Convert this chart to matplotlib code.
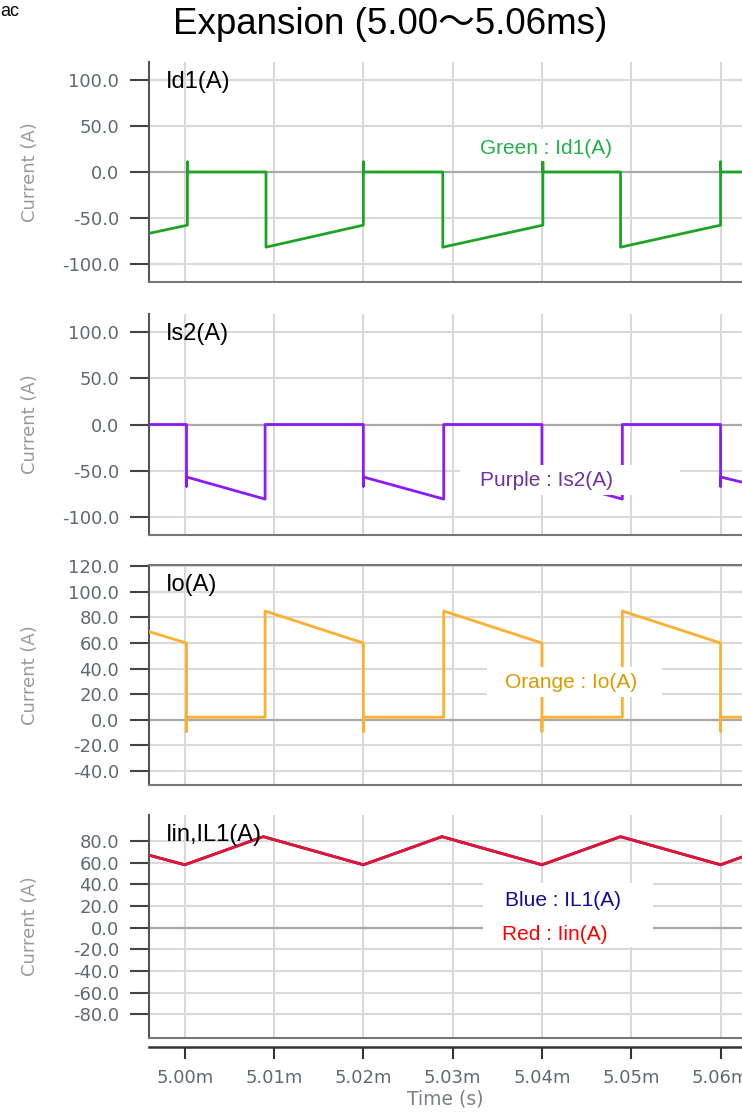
import numpy as np
import matplotlib.pyplot as plt
from matplotlib.ticker import FuncFormatter

# waveform breakpoints, time in ms
t_id1 = [4.9955, 5.0003, 5.0003, 5.0003, 5.0091, 5.0091, 5.0200, 5.0200, 5.0200, 5.0289,
         5.0289, 5.0401, 5.0401, 5.0401, 5.0488, 5.0488, 5.0600, 5.0600, 5.0600, 5.0630]
id1 = [-68, -58, 11, 0, 0, -82, -58, 11, 0, 0,
       -82, -58, 11, 0, 0, -82, -58, 11, 0, 0]

t_is2 = [4.9955, 5.0002, 5.0002, 5.0002, 5.0090, 5.0090, 5.0200, 5.0200, 5.0200, 5.0290,
         5.0290, 5.0400, 5.0400, 5.0400, 5.0490, 5.0490, 5.0600, 5.0600, 5.0600, 5.0630]
is2 = [0, 0, -67, -57, -81, 0, 0, -67, -57, -81,
       0, 0, -67, -57, -81, 0, 0, -67, -57, -64]

t_io = [4.9955, 5.0002, 5.0002, 5.0002, 5.0090, 5.0090, 5.0200, 5.0200, 5.0200, 5.0290,
        5.0290, 5.0400, 5.0400, 5.0400, 5.0490, 5.0490, 5.0600, 5.0600, 5.0600, 5.0630]
io = [70, 60, -9, 2, 2, 85, 60, -9, 2, 2,
      85, 60, -9, 2, 2, 85, 60, -9, 2, 2]

t_iin = [4.9955, 5.0000, 5.0088, 5.0200, 5.0288, 5.0400, 5.0488, 5.0600, 5.0630]
iin = [68, 58, 84, 58, 84, 58, 84, 58, 67]
il1 = [68, 58, 84, 58, 84, 58, 84, 58, 67]

x_ticks = [5.00, 5.01, 5.02, 5.03, 5.04, 5.05, 5.06]
y_ticks_12 = [-100, -50, 0, 50, 100]
y_ticks_3 = [-40, -20, 0, 20, 40, 60, 80, 100, 120]
y_ticks_4 = [-80, -60, -40, -20, 0, 20, 40, 60, 80]

W, H = 742, 1112
LEFT = 149
TICK_GRAY = '#5f6875'


def box(top, bottom):
    return [LEFT / W, 1 - bottom / H, (W - LEFT) / W, (bottom - top) / H]


def white_patch(ax, top, bottom, x0, x1, y0, y1):
    # white backing for a caption, given in figure pixels
    h = bottom - top
    ax.add_patch(plt.Rectangle(((x0 - LEFT) / 593, (bottom - y1) / h),
                               (x1 - x0) / 593, (y1 - y0) / h,
                               transform=ax.transAxes, facecolor='white',
                               edgecolor='none', zorder=5))


fig = plt.figure(figsize=(W / 100, H / 100), dpi=100)
fig.patch.set_facecolor('white')

panels = [
    # top px, bottom px, ylim, yticks, name
    (62, 282, (-120, 120), y_ticks_12, 'Id1(A)'),
    (314, 535, (-120, 120), y_ticks_12, 'Is2(A)'),
    (565, 785, (-51, 121), y_ticks_3, 'Io(A)'),
    (815, 1038, (-102, 104), y_ticks_4, 'Iin,IL1(A)'),
]

axes = []
for top, bottom, ylim, yt, name in panels:
    ax = fig.add_axes(box(top, bottom))
    ax.set_xlim(4.9960, 5.0624)
    ax.set_ylim(*ylim)
    ax.set_xticks(x_ticks)
    ax.set_yticks(yt)
    ax.yaxis.set_major_formatter(FuncFormatter(lambda v, p: '%.1f' % v))
    ax.set_axisbelow(True)
    ax.grid(color='#d9d9d9', lw=1.5)
    ax.axhline(0, color='#a8a8a8', lw=1.6, zorder=1.5)
    for s in ['top', 'right']:
        ax.spines[s].set_visible(False)
    ax.spines['left'].set_color('#555555')
    ax.spines['left'].set_linewidth(1.5)
    ax.spines['bottom'].set_color('#777777')
    ax.spines['bottom'].set_linewidth(1.5)
    ax.tick_params(axis='x', length=0, labelbottom=False)
    ax.tick_params(axis='y', direction='out', length=13.5, width=1.5, color='#444444',
                   pad=8, labelsize=13, labelcolor=TICK_GRAY)
    ax.set_ylabel('Current (A)', fontsize=13, color='#9a9a9a')
    ax.yaxis.set_label_coords(-0.185, 0.5)
    ax.text(0.029, 1 - 20 / (bottom - top), name, transform=ax.transAxes,
            fontsize=17, family='Liberation Sans', va='center', ha='left', zorder=7)
    axes.append(ax)

ax1, ax2, ax3, ax4 = axes
ax3.spines['top'].set_visible(True)
ax3.spines['top'].set_color('#777777')
ax3.spines['top'].set_linewidth(1.5)

ax1.plot(t_id1, id1, color='#1fa326', lw=2, zorder=3)
ax2.plot(t_is2, is2, color='#8a1cf7', lw=2, zorder=3)
ax3.plot(t_io, io, color='#fbb030', lw=2, zorder=3)
ax4.plot(t_iin, il1, color='#1a1aa8', lw=2, zorder=3)
ax4.plot(t_iin, iin, color='#e8132e', lw=2, zorder=3)

# series captions with white backing
cap = dict(fontsize=15, family='Liberation Sans', va='center', ha='left', zorder=6)

white_patch(ax1, 62, 282, 460, 630, 129, 161)
ax1.text((480 - LEFT) / 593, (282 - 148) / 220, 'Green : Id1(A)', color='#22b04b',
         transform=ax1.transAxes, **cap)

white_patch(ax2, 314, 535, 460, 680, 465, 495)
ax2.text((480 - LEFT) / 593, (535 - 481) / 221, 'Purple : Is2(A)', color='#7030a0',
         transform=ax2.transAxes, **cap)

white_patch(ax3, 565, 785, 487, 662, 667, 697)
ax3.text((505 - LEFT) / 593, (785 - 682) / 220, 'Orange : Io(A)', color='#d99a00',
         transform=ax3.transAxes, **cap)

white_patch(ax4, 815, 1038, 483, 653, 883, 947)
ax4.text((505 - LEFT) / 593, (1038 - 900) / 223, 'Blue : IL1(A)', color='#0d0d99',
         transform=ax4.transAxes, **cap)
ax4.text((502 - LEFT) / 593, (1038 - 935) / 223, 'Red : Iin(A)', color='#ff0000',
         transform=ax4.transAxes, **cap)

# time axis drawn slightly below the last panel
sec = ax4.secondary_xaxis(-9 / 223)
sec.set_xticks(x_ticks)
sec.xaxis.set_major_formatter(FuncFormatter(lambda v, p: '%.2fm' % v))
sec.spines['bottom'].set_color('#333333')
sec.spines['bottom'].set_linewidth(1.8)
sec.tick_params(axis='x', direction='out', length=8.6, width=1.5, color='#333333',
                pad=7, labelsize=13, labelcolor=TICK_GRAY)
sec.set_xlabel('Time (s)', fontsize=13.5, color='#7a7f88', labelpad=2)

fig.text(390 / W, 1 - 25 / H, 'Expansion (5.00～5.06ms)', fontsize=26.5,
         family=['Liberation Sans', 'Noto Sans CJK JP'], ha='center', va='center')
fig.text(0, 1 - 12 / H, 'ac', fontsize=13, family='Liberation Sans', ha='left', va='center')

plt.savefig('out.png', dpi=100)
